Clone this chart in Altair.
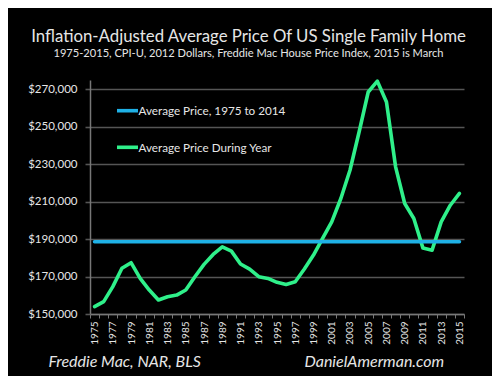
import altair as alt
import pandas as pd

years = list(range(1975, 2016))
prices = [153900, 156600, 164600, 174400, 177400, 169000, 162800, 157500, 159200, 160100,
          162800, 169900, 176500, 181800, 185900, 183600, 176700, 174000, 169900, 169000,
          166900, 165800, 167200, 174000, 181500, 190400, 199200, 211700, 226800, 247200,
          268600, 274400, 263200, 228600, 209000, 201000, 185200, 184100, 199200, 208100,
          214400]
average_price = 188600
y_ticks = [150000, 170000, 190000, 210000, 230000, 250000, 270000]

title = "Inflation-Adjusted Average Price Of US Single Family Home"
subtitle = "1975-2015, CPI-U, 2012 Dollars, Freddie Mac House Price Index, 2015 is March"
legend_labels = ["Average Price, 1975 to 2014", "Average Price During Year"]
source_text = "Freddie Mac, NAR, BLS"
site_text = "DanielAmerman.com"

GREEN = "#2ff08a"
BLUE = "#1fb1e6"
TEXT = "#e6e6e6"
FONT = "Lato"

df = pd.DataFrame({"year": years, "price": prices, "avg": [average_price] * len(years)})

xscale = alt.Scale(type="band", paddingInner=0, paddingOuter=0)
xaxis = alt.Axis(
    title=None, tickBand="extent", labelAngle=270, labelAlign="right",
    labelBaseline="middle", labelExpr="datum.value % 2 == 1 ? datum.label : ''",
    labelOverlap=False, labelColor=TEXT, labelFont=FONT, labelFontSize=10,
    labelPadding=3, tickColor="#777777", tickSize=4, domainColor="#777777",
    domainWidth=1.5, grid=False,
)
yscale = alt.Scale(domain=[150000, 275000], nice=False, zero=False)
yaxis = alt.Axis(
    title=None, values=y_ticks, format="$,d", grid=True, gridColor="#555555",
    gridWidth=1.6, tickColor="#555555", tickSize=5, tickWidth=1.6,
    domainColor="#777777", domainWidth=1.5, labelColor=TEXT, labelFont=FONT,
    labelFontSize=11.5, labelPadding=8, labelOverlap=False,
)

green = alt.Chart(df).mark_line(color=GREEN, strokeWidth=3.6, strokeCap="round", strokeJoin="round").encode(
    x=alt.X("year:O", bandPosition=0.5, scale=xscale, axis=xaxis),
    y=alt.Y("price:Q", scale=yscale, axis=yaxis),
)
blue = alt.Chart(df).mark_line(color=BLUE, strokeWidth=3.6, strokeCap="round").encode(
    x=alt.X("year:O", bandPosition=0.5, scale=xscale, axis=xaxis),
    y=alt.Y("avg:Q", scale=yscale, axis=yaxis),
)

def txt(s, x, y, size, align="left", style="normal", baseline="alphabetic"):
    return alt.Chart(pd.DataFrame({"t": [s]})).mark_text(
        align=align, baseline=baseline, font=FONT, fontSize=size, color=TEXT,
        fontStyle=style,
    ).encode(text="t:N", x=alt.value(x), y=alt.value(y))

legend_blue = alt.Chart(pd.DataFrame({"t": [0]})).mark_rule(color=BLUE, strokeWidth=3.6).encode(
    x=alt.value(27), x2=alt.value(48), y=alt.value(30.7))
legend_green = alt.Chart(pd.DataFrame({"t": [0]})).mark_rule(color=GREEN, strokeWidth=3.6).encode(
    x=alt.value(27), x2=alt.value(48), y=alt.value(67.3))

chart = alt.layer(
    green, blue, legend_blue, legend_green,
    txt(legend_labels[0], 48.5, 31, 11.7, baseline="middle"),
    txt(legend_labels[1], 48.5, 67.5, 11.7, baseline="middle"),
    txt(title, 158.5, -38.5, 16.8, align="center"),
    txt(subtitle, 158.5, -22.7, 11.1, align="center"),
    txt(source_text, -41.5, 286.7, 16, style="italic"),
    txt(site_text, 214.5, 286.7, 16, style="italic"),
).properties(
    width=374, height=234,
    padding={"left": 82, "top": 72, "right": 28, "bottom": 62},
    autosize=alt.AutoSizeParams(type="none"),
    background="black",
).configure_view(stroke=None)

chart.save("out.html", embed_options={"renderer": "svg", "actions": False})
